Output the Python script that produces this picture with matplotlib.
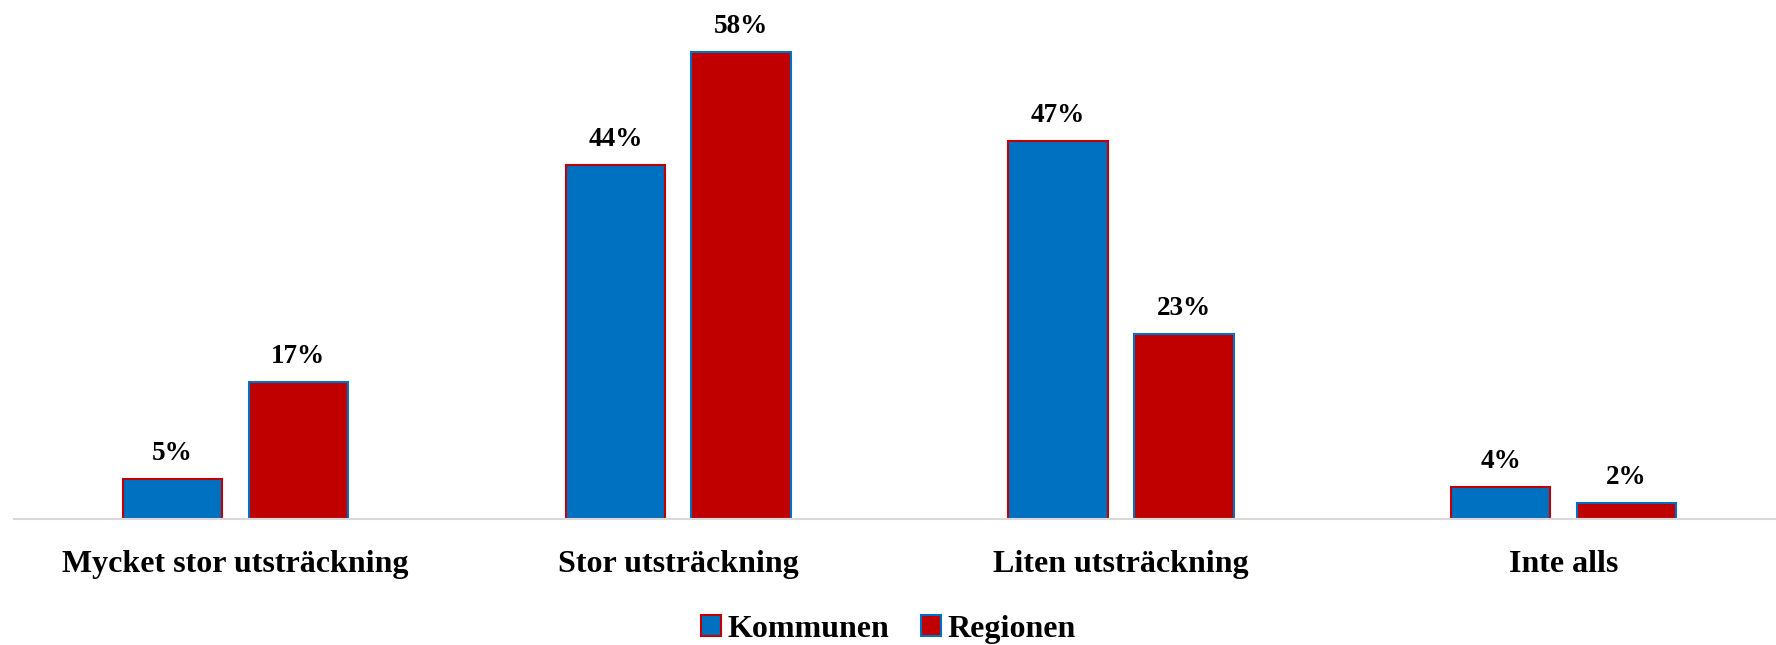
import numpy as np
import matplotlib.pyplot as plt
from matplotlib.patches import Patch

categories = ["Mycket stor utsträckning", "Stor utsträckning", "Liten utsträckning", "Inte alls"]
kommunen = [5, 44, 47, 4]
regionen = [17, 58, 23, 2]

blue = "#0070c0"
red = "#c00000"

plt.rcParams['font.family'] = ['Liberation Serif', 'DejaVu Serif']
plt.rcParams['font.weight'] = 'bold'

fig = plt.figure(figsize=(17.76, 6.45), dpi=100)
ax = fig.add_axes([0.008, 0.195, 0.992, 0.805])

x = np.arange(len(categories))
w = 0.225
off = 0.142

b1 = ax.bar(x - off, kommunen, w, color=blue, edgecolor=red, linewidth=1.5)
b2 = ax.bar(x + off, regionen, w, color=red, edgecolor=blue, linewidth=1.5)

for bars in (b1, b2):
    for rect in bars:
        h = rect.get_height()
        ax.text(rect.get_x() + rect.get_width() / 2, h + 1.6, f"{h:.0f}%",
                ha='center', va='bottom', fontsize=19.5, fontweight='bold')

ax.set_xlim(-0.5, 3.48)
ax.set_ylim(0, 64.5)
ax.set_yticks([])
ax.set_xticks(x)
ax.set_xticklabels(categories, fontsize=23, fontweight='bold')
ax.tick_params(axis='x', length=0, pad=22)
for s in ['top', 'right', 'left']:
    ax.spines[s].set_visible(False)
ax.spines['bottom'].set_color('#d9d9d9')
ax.spines['bottom'].set_linewidth(1.5)

handles = [Patch(facecolor=blue, edgecolor=red, linewidth=1.5, label="Kommunen"),
           Patch(facecolor=red, edgecolor=blue, linewidth=1.5, label="Regionen")]
fig.legend(handles=handles, loc='center', bbox_to_anchor=(0.5, 0.024), ncol=2,
           frameon=False, handlelength=0.63, handleheight=0.63,
           handletextpad=0.2, columnspacing=1.0, prop={'weight': 'bold', 'size': 23})

fig.savefig("out.png", dpi=100)
